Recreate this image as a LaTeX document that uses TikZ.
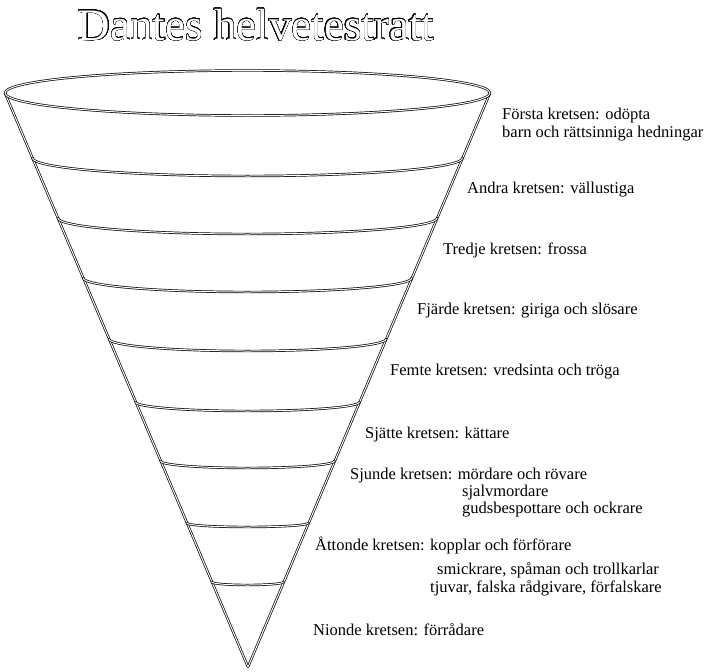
\documentclass[tikz,border=0pt]{standalone}
\usepackage{fontspec}
\setmainfont{Liberation Serif}
\usepackage{contour}
\contourlength{0.35pt}
\contournumber{32}
\begin{document}
\begin{tikzpicture}[x=1pt, y=-1pt, line join=round, line cap=round,
	rim/.style={draw=black, line width=0.7pt, double=white, double distance=1pt},
	krets/.style={anchor=west, inner sep=0pt, font=\fontsize{16.5}{18}\selectfont, align=left}]
		\def\cx{247.5} \def\topy{93} \def\apexy{667} % kon
		\def\rx{242.5} \def\ry{22.5}
		\useasboundingbox (0,0) rectangle (710,672);
		\node[inner sep=0pt, font=\fontsize{45}{50}\selectfont, text=white] (rubrik) at (256,25)
			{\contour{black}{Dantes helvetestratt}};
		\coordinate (V) at (\cx-\rx,\topy);
		\coordinate (H) at (\cx+\rx,\topy);
		\coordinate (botten) at (248,\apexy);
		\draw[rim] (V)--(botten)--(H);
		\draw[rim] (\cx,\topy) ellipse [x radius=\rx, y radius=\ry];
		\foreach \y/\s in {158/18,218/16,278/14,339/12,402/9,461/7,523/4,582/3}{
			\pgfmathsetmacro\w{\rx/(\apexy-\topy)*(\apexy-\y)}
			\draw[rim] (\cx-\w,\y) arc[start angle=180, end angle=0, x radius=\w, y radius=\s];
		}
		\node[krets] (k1) at (502,125) {Första kretsen: odöpta\\barn och rättsinniga hedningar};
		\node[krets] (k2) at (467,190) {Andra kretsen: vällustiga};
		\node[krets] (k3) at (443,250) {Tredje kretsen: frossa};
		\node[krets] (k4) at (417,311) {Fjärde kretsen: giriga och slösare};
		\node[krets] (k5) at (390,372) {Femte kretsen: vredsinta och tröga};
		\node[krets] (k6) at (365,435) {Sjätte kretsen: kättare};
		\node[krets] (k7) at (350,476) {Sjunde kretsen: mördare och rövare};
		\node[krets] (k7b) at (462,493) {sjalvmordare};
		\node[krets] (k7c) at (462,510) {gudsbespottare och ockrare};
		\node[krets] (k8) at (315,545) {Åttonde kretsen: kopplar och förförare};
		\node[krets] (k8b) at (437,570) {smickrare, spåman och trollkarlar};
		\node[krets] (k8c) at (430,588) {tjuvar, falska rådgivare, förfalskare};
		\node[krets] (k9) at (313,630) {Nionde kretsen: förrådare};
\end{tikzpicture}
\end{document}
